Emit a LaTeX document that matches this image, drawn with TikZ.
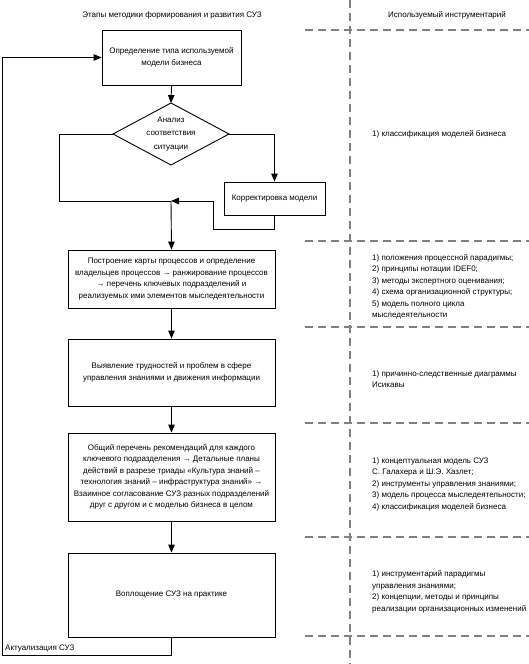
\documentclass[tikz,border=0pt]{standalone}
\usepackage{fontspec}
\setmainfont{Liberation Sans}
\usetikzlibrary{arrows.meta,calc,positioning}

\begin{document}
\begin{tikzpicture}[x=1pt,y=-1pt,font=\fontsize{8}{11.5}\selectfont,
  >={Triangle[length=8pt,width=6.5pt]},
  stage/.style={draw,line width=0.9pt,align=center,inner sep=0pt,minimum width=207pt},
  tool/.style={anchor=west,align=left,inner sep=0pt},
  divider/.style={draw=gray,line width=1.3pt,dash pattern=on 8pt off 5pt},
  flow/.style={line width=0.9pt}]
\useasboundingbox (0,0) rectangle (529,664);
\node (hstages) at (172,15) {Этапы методики формирования и развития СУЗ};
\node (htools) at (447,15) {Используемый инструментарий};
\draw[divider] (350,0) -- (350,664);
\foreach \yy in {30,241,327,423,537,636}
  \draw[divider] (305,\yy) -- (529,\yy);
\node[stage,minimum width=139pt,minimum height=55pt] (opr) at (171.5,57.5) {Определение типа используемой\\модели бизнеса};
\coordinate (dtop) at (171,103);
\coordinate (dright) at (229,134);
\coordinate (dbot) at (171,165);
\coordinate (dleft) at (113,134);
\draw[flow] (dtop) -- (dright) -- (dbot) -- (dleft) -- cycle;
\node[align=center,inner sep=0pt] (analiz) at (171,134) {Анализ\\[2pt]соответствия\\[2pt]ситуации};
\node[stage,minimum width=101pt,minimum height=33pt] (korr) at (274.5,198.5) {Корректировка модели};
\coordinate (lcorner) at (59,201);
\coordinate (retcorner) at (213,229);
\coordinate (join) at (171,201);
\node[stage,minimum height=58pt] (postr) at (171.5,279) {Построение карты процессов и определение\\владельцев процессов → ранжирование процессов\\→ перечень ключевых подразделений и\\реализуемых ими элементов мыследеятельности};
\node[stage,minimum height=67pt] (vyyavl) at (171.5,372.5) {Выявление трудностей и проблем в сфере\\управления знаниями и движения информации};
\node[stage,minimum height=88pt] (obshch) at (171.5,477) {Общий перечень рекомендаций для каждого\\ключевого подразделения → Детальные планы\\действий в разрезе триады «Культура знаний –\\технология знаний – инфраструктура знаний» →\\Взаимное согласование СУЗ разных подразделений\\друг с другом и с моделью бизнеса в целом};
\node[stage,minimum height=84pt] (voplo) at (171.5,595) {Воплощение СУЗ на практике};
\coordinate (loopbl) at (2,655);
\coordinate (looptl) at (2,57.5);
\draw[flow,->] (opr.south) -- (dtop);
\draw[flow] (dleft) -| (lcorner) -- (join);
\draw[flow,->] (dright) -| (korr.north);
\draw[flow,->] (korr.south) |- (retcorner) |- (join);
\draw[flow,->] (join) -- (postr.north);
\draw[flow,->] (postr.south) -- (vyyavl.north);
\draw[flow,->] (vyyavl.south) -- (obshch.north);
\draw[flow,->] (obshch.south) -- (voplo.north);
\draw[flow,->] (voplo.south) |- (loopbl) -- (looptl) -- (opr.west);
\node[anchor=south west,inner sep=2pt] (aktual) at (3,654) {Актуализация СУЗ};
\node[tool] (tklass) at (372,134) {1) классификация моделей бизнеса};
\node[tool] (tproc) at (372,287) {1) положения процессной парадигмы;\\2) принципы нотации IDEF0;\\3) методы экспертного оценивания;\\4) схема организационной структуры;\\5) модель полного цикла\\мыследеятельности};
\node[tool] (tishik) at (372,379) {1) причинно-следственные диаграммы\\Исикавы};
\node[tool] (tkonc) at (372,484) {1) концептуальная модель СУЗ\\С. Галахера и Ш.Э. Хазлет;\\2) инструменты управления знаниями;\\3) модель процесса мыследеятельности;\\4) классификация моделей бизнеса};
\node[tool] (tvnedr) at (372,592) {1) инструментарий парадигмы\\управления знаниями;\\2) концепции, методы и принципы\\реализации организационных изменений};
\end{tikzpicture}
\end{document}
